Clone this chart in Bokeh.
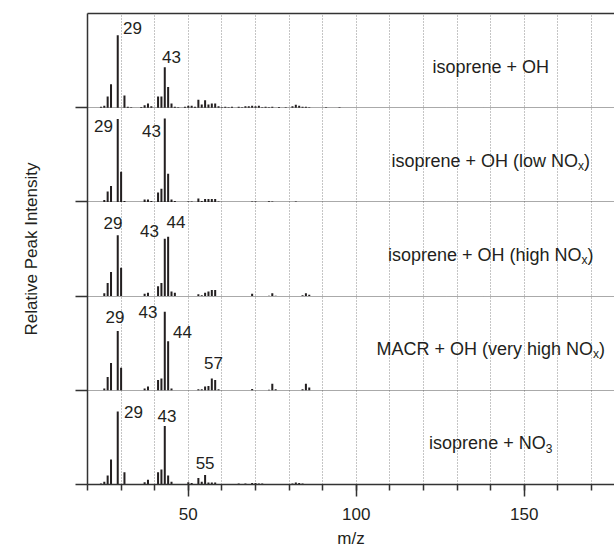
from bokeh.plotting import figure
from bokeh.models import ColumnDataSource, FixedTicker, LinearAxis, Range1d
from bokeh.core.properties import value
from bokeh.embed import file_html
from bokeh.resources import INLINE

# ---------------- data (bottom panel first) ----------------
panel_keys = ["no3", "macr", "high", "low", "oh"]

mz_no3 = [24, 25, 26, 27, 29, 31, 37, 38, 41, 42, 43, 44, 45, 50, 51, 53, 54, 55, 56, 57,
          58, 59, 63, 65, 66, 67, 69, 70, 71, 72, 81, 82, 83, 84]
int_no3 = [.01, .03, .095, .265, .775, .13, .025, .05, .13, .16, .62, .095, .03, .025, .015,
           .07, .03, .10, .02, .02, .02, .005, .005, .01, .005, .01, .015, .015, .01, .01,
           .01, .02, .015, .01]

mz_macr = [25, 26, 27, 29, 30, 37, 38, 41, 42, 43, 44, 45, 53, 54, 55, 56, 57, 58, 59, 69,
           74, 75, 76, 84, 85, 86]
int_macr = [.02, .14, .29, .63, .24, .02, .04, .11, .125, .835, .52, .02, .01, .01, .04,
            .045, .125, .11, .01, .015, .005, .07, .01, .01, .07, .03]

mz_high = [25, 26, 27, 29, 30, 37, 38, 41, 42, 43, 44, 45, 46, 53, 54, 55, 56, 57, 58, 69,
           74, 75, 76, 84, 85, 86]
int_high = [.03, .14, .255, .645, .30, .025, .035, .105, .14, .61, .63, .05, .035, .02, .01,
            .035, .05, .065, .065, .025, .005, .03, .005, .01, .03, .015]

mz_low = [25, 26, 27, 29, 30, 31, 37, 38, 39, 41, 42, 43, 44, 45, 46, 50, 51, 53, 54, 55,
          56, 57, 58, 59, 69, 70, 74, 75, 82]
int_low = [.02, .11, .17, .88, .32, .01, .025, .025, .01, .10, .14, .885, .30, .025, .01,
           .005, .005, .035, .01, .03, .03, .03, .03, .005, .005, .005, .008, .005, .005]

mz_oh = [24, 25, 26, 27, 29, 31, 32, 33, 36, 37, 38, 39, 41, 42, 43, 44, 45, 46, 47, 49,
         50, 51, 52, 53, 54, 55, 56, 57, 58, 59, 60, 61, 62, 63, 65, 66, 67, 68, 69, 70,
         71, 72, 73, 74, 75, 77, 79, 81, 82, 83, 84, 85, 86, 91, 95]
int_oh = [.01, .02, .12, .25, .77, .13, .01, .005, .008, .025, .045, .015, .12, .12, .43,
          .22, .045, .01, .005, .01, .02, .02, .01, .085, .035, .08, .035, .045, .045, .015,
          .005, .01, .005, .01, .01, .005, .015, .015, .02, .015, .02, .005, .01, .005, .01,
          .008, .005, .015, .03, .02, .01, .01, .005, .005, .005]

# labelled peaks per panel
peaks_no3 = [29, 43, 55]
peaks_macr = [29, 43, 44, 57]
peaks_high = [29, 43, 44]
peaks_low = [29, 43]
peaks_oh = [29, 43]

# panel titles: main text, subscript, tail
title_main = ["isoprene + NO", "MACR + OH (very high NO", "isoprene + OH (high NO",
              "isoprene + OH (low NO", "isoprene + OH"]
title_sub = ["3", "x", "x", "x", ""]
title_tail = ["", ")", ")", ")", ""]
title_mz = 140

x_major = [50, 100, 150]
x_minor = list(range(20, 180, 10))
x_title = "m/z"
y_title = "Relative Peak Intensity"

# ---------------- styling ----------------
FONT = "Liberation Sans"
INK = "#231f20"
AXIS = "#333333"

# pixel offsets of peak labels (dx, dy) relative to the bar top
label_offsets = {
    "no3": [(15.8, 1), (2.2, -9.6), (0, -11.6)],
    "macr": [(-2.7, -13.7), (-16.8, 0.7), (14.4, -9), (1.7, -15.2)],
    "high": [(-4.7, -12.2), (-15.3, -7.5), (7.9, -14.7)],
    "low": [(-14.2, 7), (-13.3, 12.4)],
    "oh": [(14.8, -7.5), (6.7, -10.5)],
}

data = {
    "no3": (mz_no3, int_no3, peaks_no3),
    "macr": (mz_macr, int_macr, peaks_macr),
    "high": (mz_high, int_high, peaks_high),
    "low": (mz_low, int_low, peaks_low),
    "oh": (mz_oh, int_oh, peaks_oh),
}

X0, X1 = 20, 20 + 527 / 3.36
p = figure(width=614, height=550, x_range=Range1d(X0, X1), y_range=Range1d(0, 5),
           output_backend="svg", toolbar_location=None,
           min_border_left=87, min_border_right=0, min_border_top=13, min_border_bottom=66)
p.outline_line_color = None
p.background_fill_color = "white"

# bars
bx, bb, bt = [], [], []
lx, ly, lt, ldx, ldy = [], [], [], [], []
for off, key in enumerate(panel_keys):
    mz, inten, peaks = data[key]
    for m, v in zip(mz, inten):
        bx.append(m)
        bb.append(off)
        bt.append(off + v)
    for pk, (dx, dy) in zip(peaks, label_offsets[key]):
        v = inten[mz.index(pk)]
        lx.append(pk)
        ly.append(off + v)
        lt.append(str(pk))
        ldx.append(dx)
        ldy.append(dy)

bars = ColumnDataSource(dict(x=bx, bottom=bb, top=bt))
p.vbar(x="x", bottom="bottom", top="top", width=0.6, source=bars,
       fill_color=INK, line_color=None)

labels = ColumnDataSource(dict(x=lx, y=ly, text=lt, dx=ldx, dy=ldy))
p.text(x="x", y="y", text="text", x_offset="dx", y_offset="dy", source=labels,
       text_align="center", text_baseline="middle", text_font=value(FONT),
       text_font_size="17px", text_color=INK)

# titles with subscripts
W = {"i": .222, "s": .5, "o": .556, "p": .556, "r": .333, "e": .556, "n": .556, " ": .278,
     "+": .584, "O": .778, "H": .722, "(": .333, ")": .333, "l": .222, "w": .722, "N": .722,
     "h": .556, "g": .556, "M": .833, "A": .667, "C": .722, "R": .722, "v": .5, "y": .5,
     "x": .5, "3": .556}
TS, SS = 18, 12


def width(s, size):
    return sum(W.get(c, .556) for c in s) * size


main_rows = dict(x=[], y=[], text=[], off=[])
sub_rows = dict(x=[], y=[], text=[], off=[])
tail_rows = dict(x=[], y=[], text=[], off=[])
for off in range(5):
    wm = width(title_main[off], TS)
    ws = width(title_sub[off], SS)
    wt = width(title_tail[off], TS)
    start = -(wm + ws + wt) / 2
    for rows, txt, o in ((main_rows, title_main[off], start),
                         (sub_rows, title_sub[off], start + wm),
                         (tail_rows, title_tail[off], start + wm + ws)):
        if txt:
            rows["x"].append(title_mz)
            rows["y"].append(off + 0.5)
            rows["text"].append(txt)
            rows["off"].append(o)

common = dict(x="x", y="y", text="text", x_offset="off", text_align="left",
              text_baseline="alphabetic", text_font=value(FONT), text_color=INK)
p.text(source=ColumnDataSource(main_rows), y_offset=6, text_font_size=f"{TS}px", **common)
p.text(source=ColumnDataSource(sub_rows), y_offset=11, text_font_size=f"{SS}px", **common)
p.text(source=ColumnDataSource(tail_rows), y_offset=6, text_font_size=f"{TS}px", **common)

# axes
xa = p.xaxis[0]
xa.ticker = FixedTicker(ticks=x_major, minor_ticks=x_minor)
xa.major_tick_out = 12
xa.major_tick_in = 0
xa.minor_tick_out = 6
xa.minor_tick_in = 0
xa.axis_line_width = 1.5
xa.axis_line_color = AXIS
xa.major_tick_line_width = 1.5
xa.major_tick_line_color = AXIS
xa.minor_tick_line_width = 1.5
xa.minor_tick_line_color = AXIS
xa.major_label_text_font = FONT
xa.major_label_text_font_size = "17px"
xa.major_label_text_color = INK
xa.major_label_standoff = 11
xa.axis_label = x_title
xa.axis_label_text_font = FONT
xa.axis_label_text_font_size = "17px"
xa.axis_label_text_font_style = "normal"
xa.axis_label_text_color = INK
xa.axis_label_standoff = 6

ya = p.yaxis[0]
ya.ticker = FixedTicker(ticks=[0, 1, 2, 3, 4], minor_ticks=[])
ya.major_tick_out = 12
ya.major_tick_in = 0
ya.minor_tick_out = 0
ya.minor_tick_in = 0
ya.axis_line_width = 1.5
ya.axis_line_color = AXIS
ya.major_tick_line_width = 1.5
ya.major_tick_line_color = AXIS
ya.major_label_text_font_size = "0px"
ya.major_label_text_color = None
ya.major_label_standoff = 0
ya.axis_label = y_title
ya.axis_label_text_font = FONT
ya.axis_label_text_font_size = "17px"
ya.axis_label_text_font_style = "normal"
ya.axis_label_text_color = INK
ya.axis_label_standoff = 35

top_axis = LinearAxis(ticker=FixedTicker(ticks=[]), major_tick_out=0, major_tick_in=0,
                      minor_tick_out=0, minor_tick_in=0, major_label_text_font_size="0px",
                      major_label_text_color=None,
                      major_label_standoff=0, axis_line_width=1.5, axis_line_color=AXIS)
p.add_layout(top_axis, "above")

# grids
p.xgrid.ticker = FixedTicker(ticks=list(range(30, 180, 10)))
p.xgrid.grid_line_color = "#8a8a8a"
p.xgrid.grid_line_dash = "1 2"
p.xgrid.grid_line_width = 1
p.ygrid.ticker = FixedTicker(ticks=[1, 2, 3, 4])
p.ygrid.grid_line_color = "#555555"
p.ygrid.grid_line_dash = "1 1"
p.ygrid.grid_line_width = 1

open("out.html", "w").write(file_html(p, INLINE))
